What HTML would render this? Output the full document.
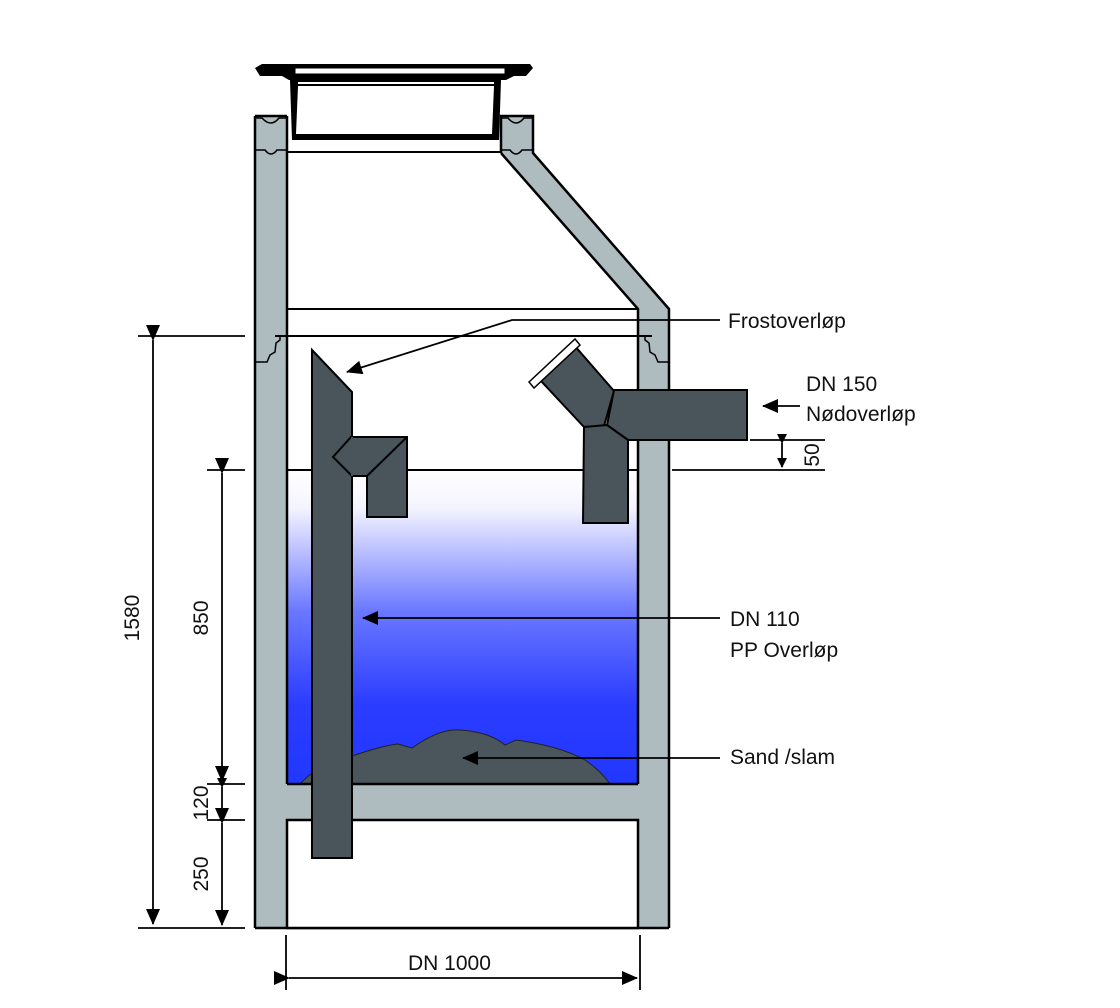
<!DOCTYPE html>
<html><head><meta charset="utf-8"><style>
html,body{margin:0;padding:0;background:#fff;width:1120px;height:1008px;overflow:hidden}
svg{display:block}
text{font-family:"Liberation Sans",sans-serif;font-size:21px;fill:#111}
</style></head><body>
<svg width="1120" height="1008" viewBox="0 0 1120 1008" xmlns="http://www.w3.org/2000/svg">
<defs>
<linearGradient id="w" x1="0" y1="470" x2="0" y2="784" gradientUnits="userSpaceOnUse">
<stop offset="0" stop-color="#ffffff"/>
<stop offset="0.12" stop-color="#f4f4ff"/>
<stop offset="0.45" stop-color="#6a78ff"/>
<stop offset="0.75" stop-color="#2a3cff"/>
<stop offset="1" stop-color="#2238ff"/>
</linearGradient>
<marker id="a" markerWidth="10" markerHeight="10" refX="9" refY="5" orient="auto" markerUnits="userSpaceOnUse" viewBox="0 0 10 10"><path d="M0,0 L10,5 L0,10 z" fill="#000"/></marker>
<marker id="b" markerWidth="16" markerHeight="14" refX="15" refY="7" orient="auto" markerUnits="userSpaceOnUse" viewBox="0 0 16 14"><path d="M0,0 L16,7 L0,14 z" fill="#000"/></marker>
</defs>

<!-- water -->
<rect x="287" y="470" width="351" height="314" fill="url(#w)"/>
<!-- sand -->
<path d="M300,784 Q320,762 355,755 Q385,745 398,744 L412,748 Q440,728 460,730 Q490,732 505,745 L516,740 Q560,746 585,760 Q600,770 610,784 Z" fill="#4a555c" stroke="#222" stroke-width="1"/>

<!-- concrete fills -->
<g fill="#aebbbf">
<rect x="255" y="116" width="32" height="812"/>
<rect x="501" y="116" width="32" height="37"/>
<polygon points="501,153 533,153 669,309 669,928 638,928 638,309"/>
<rect x="287" y="784" width="351" height="36"/>
</g>
<g stroke="#000" stroke-width="2.5" fill="none">
<line x1="255" y1="116" x2="255" y2="928"/>
<line x1="287" y1="116" x2="287" y2="784"/>
<line x1="255" y1="116" x2="287" y2="116"/>
<polyline points="501,153 501,116 533,116 533,153 669,309 669,928"/>
<polyline points="501,153 638,309 638,784"/>
<line x1="287" y1="784" x2="638" y2="784"/>
<line x1="255" y1="928" x2="669" y2="928"/>
</g>
<rect x="287" y="820" width="351" height="108" fill="#fff" stroke="#000" stroke-width="2.5"/>
<line x1="287" y1="152" x2="501" y2="152" stroke="#000" stroke-width="2"/>
<line x1="287" y1="309" x2="638" y2="309" stroke="#000" stroke-width="2"/>
<line x1="287" y1="470" x2="638" y2="470" stroke="#000" stroke-width="2"/>
<line x1="275" y1="336" x2="652" y2="336" stroke="#000" stroke-width="2"/>
<path d="M255,362 L267,362 L270,355 L275,352 L276,343 L280,340 L280,336 M669,362 L658,362 L655,355 L650,352 L649,343 L645,340 L645,336" fill="none" stroke="#000" stroke-width="1.5"/>
<path d="M255,150 L265,150 Q271,158 277,150 L287,150 M501,150 L510,150 Q516,158 522,150 L533,150 M255,118 L262,118 Q271,128 279,118 L287,118 M501,118 L508,118 Q516,128 524,118 L533,118" fill="none" stroke="#000" stroke-width="1.5"/>

<!-- lid -->
<path d="M255,68 L262,64 L530,64 L533,68 L526,76 L514,76 L506,80 L289,80 L282,76 L260,76 Z" fill="#000"/>
<rect x="295" y="68" width="210" height="6" fill="#fff" stroke="#000" stroke-width="1"/>
<polygon points="290,80 501,80 499,140 292,140" fill="#000"/>
<polygon points="298,86 494,86 492,134 296,134" fill="#fff"/>
<line x1="298" y1="83" x2="494" y2="83" stroke="#fff" stroke-width="2"/>

<!-- left pipe -->
<g fill="#4a545b" stroke="#000" stroke-width="2">
<polygon points="312,350 352,392 352,858 312,858"/>
<polygon points="351,437 407,437 407,517 367,517 367,476 352,476 333,457"/>
</g>
<line x1="407" y1="437" x2="367" y2="476" stroke="#000" stroke-width="2"/>
<line x1="352" y1="437" x2="352" y2="476" stroke="#4a545b" stroke-width="2"/>

<!-- right Y fitting -->
<g fill="#4a545b" stroke="#000" stroke-width="2">
<polygon points="541,381 574,345 614,391 604,426 584,427"/>
<polygon points="614,390 747,390 747,440 628,440 607,425"/>
<polygon points="584,427 607,425 628,440 628,523 583,523"/>
</g>
<polygon points="529,382 575,339 580,345 534,388" fill="#fff" stroke="#000" stroke-width="1.5"/>

<!-- dimension lines -->
<g stroke="#000" stroke-width="1.8" fill="none">
<line x1="138" y1="336" x2="245" y2="336"/>
<line x1="138" y1="928" x2="245" y2="928"/>
<line x1="153" y1="340" x2="153" y2="924" marker-start="url(#b)" marker-end="url(#b)"/>
<line x1="207" y1="470" x2="245" y2="470"/>
<line x1="207" y1="784" x2="245" y2="784"/>
<line x1="207" y1="820" x2="245" y2="820"/>
<line x1="222" y1="473" x2="222" y2="781" marker-start="url(#b)" marker-end="url(#b)"/>
<line x1="222" y1="787" x2="222" y2="817" marker-start="url(#a)" marker-end="url(#a)"/>
<line x1="222" y1="823" x2="222" y2="925" marker-start="url(#b)" marker-end="url(#b)"/>
<line x1="286" y1="935" x2="286" y2="990"/>
<line x1="640" y1="935" x2="640" y2="990"/>
<line x1="289" y1="978" x2="637" y2="978" marker-start="url(#b)" marker-end="url(#b)"/>
<line x1="750" y1="440" x2="825" y2="440"/>
<line x1="672" y1="470" x2="825" y2="470"/>
<line x1="782" y1="443" x2="782" y2="467" marker-start="url(#a)" marker-end="url(#a)"/>
<polyline points="720,320 512,320 347,372" marker-end="url(#b)"/>
<line x1="800" y1="406" x2="763" y2="406" marker-end="url(#b)"/>
<line x1="720" y1="618" x2="363" y2="618" marker-end="url(#b)"/>
<line x1="720" y1="758" x2="463" y2="758" marker-end="url(#b)"/>
</g>

<!-- labels -->
<text x="728" y="328">Frostoverløp</text>
<text x="806" y="391">DN 150</text>
<text x="806" y="421">Nødoverløp</text>
<text x="730" y="626">DN 110</text>
<text x="730" y="657">PP Overløp</text>
<text x="730" y="764">Sand /slam</text>
<text x="408" y="970">DN 1000</text>
<text transform="translate(819,455) rotate(-90)" text-anchor="middle">50</text>
<text transform="translate(139,618) rotate(-90)" text-anchor="middle">1580</text>
<text transform="translate(208,618) rotate(-90)" text-anchor="middle">850</text>
<text transform="translate(208,803) rotate(-90)" text-anchor="middle">120</text>
<text transform="translate(208,874) rotate(-90)" text-anchor="middle">250</text>
</svg>
</body></html>
